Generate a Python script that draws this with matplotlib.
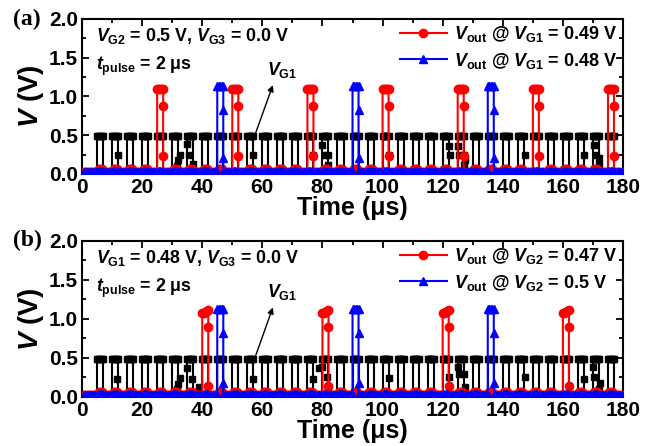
import matplotlib
matplotlib.use("Agg")
import matplotlib.pyplot as plt
from matplotlib.ticker import MultipleLocator

plt.rcParams['font.family'] = ['Liberation Sans', 'DejaVu Sans']
plt.rcParams['font.weight'] = 'bold'
plt.rcParams['mathtext.fontset'] = 'custom'
plt.rcParams['mathtext.rm'] = 'Liberation Sans:bold'
plt.rcParams['mathtext.it'] = 'Liberation Sans:italic:bold'
plt.rcParams['mathtext.bf'] = 'Liberation Sans:bold'

# ---------------- data ----------------
# VG1 input pulse train (same in both panels)
vg1_pulse_starts = [5, 10, 15, 20, 25, 30, 35, 40, 45, 50, 55, 60, 65, 70, 75, 80, 85,
                    90, 95, 100, 105, 110, 115, 120, 125, 130, 135, 140, 145, 150, 155,
                    160, 165, 170, 175]
vg1_high = 0.49
# shape of one pulse: time offsets (us) and levels (1 -> vg1_high)
pulse_dt = [0.0, 0.0, 0.4, 0.8, 1.2, 1.6, 2.0, 2.0]
pulse_lv = [0.0, 1, 1, 1, 1, 1, 1, 0.0]

# sporadic VG1 samples caught on the edges
a_edge_t = [12, 31.5, 32, 32.5, 34.8, 35.5, 37, 57, 77, 80, 81, 82, 82, 102, 122, 122.5,
            125, 125.5, 127, 127, 127.5, 147.5, 167, 170.5, 171, 172, 172]
a_edge_v = [0.25, 0.10, 0.18, 0.24, 0.38, 0.25, 0.13, 0.25, 0.25, 0.37, 0.25, 0.25, 0.12,
            0.25, 0.36, 0.25, 0.36, 0.25, 0.25, 0.12, 0.18, 0.25, 0.25, 0.37, 0.25, 0.12, 0.20]
b_edge_t = [11.5, 31.5, 32, 32.5, 34.8, 36.5, 39, 57, 77, 79, 80, 81.5, 82, 102, 122, 125,
            125.5, 127, 127.5, 147.5, 167, 170, 170.5, 172.5, 172]
b_edge_v = [0.23, 0.10, 0.17, 0.24, 0.37, 0.23, 0.13, 0.23, 0.23, 0.37, 0.39, 0.26, 0.13,
            0.24, 0.26, 0.39, 0.30, 0.30, 0.13, 0.26, 0.23, 0.39, 0.26, 0.18, 0.10]

# Vout spikes: start times, top level at start / end, samples on falling edge
a_red_spikes = [25, 50, 75, 100, 125, 150, 175]
a_red_top = (1.10, 1.10)
a_red_fall = [0.88, 0.23]
a_blue_spikes = [45, 90, 135]
a_blue_top = (1.13, 1.13)
a_blue_fall = [0.83, 0.21]

b_red_spikes = [40, 80, 120, 160]
b_red_top = (1.07, 1.11)
b_red_fall = [0.90, 0.14]
b_blue_spikes = [45, 90, 135]
b_blue_top = (1.13, 1.13)
b_blue_fall = [0.82, 0.18]

# Vout baseline level and bump during each VG1 pulse
red_base, red_bump = 0.03, 0.06
blue_base, blue_bump = 0.03, 0.04

xticks = [0, 20, 40, 60, 80, 100, 120, 140, 160, 180]
yticks = [0.0, 0.5, 1.0, 1.5, 2.0]


def build_vg1():
    t, v = [0.0], [0.0]
    for t0 in vg1_pulse_starts:
        for dt, lv in zip(pulse_dt, pulse_lv):
            t.append(t0 + dt)
            v.append(lv * vg1_high if lv == 1 else lv)
    t.append(180.0)
    v.append(0.0)
    return t, v


def build_vout(spikes, top, fall, base, bump):
    t, v = [], []
    periods = [0] + vg1_pulse_starts
    for t0 in periods:
        if t0 in spikes:
            d = top[1] - top[0]
            seg_t = [t0, t0, t0 + 0.5, t0 + 1.0, t0 + 1.5, t0 + 2.0, t0 + 2.0, t0 + 2.0, t0 + 2.0]
            seg_v = [base, top[0], top[0] + d * 0.25, top[0] + d * 0.5, top[0] + d * 0.75,
                     top[1], fall[0], fall[1], base]
        elif t0 > 0:
            seg_t = [t0, t0 + 0.5, t0 + 1.0, t0 + 1.5, t0 + 2.0]
            seg_v = [base, bump, bump, bump, base]
        else:
            seg_t = [0.5, 1.0, 1.5, 2.0]
            seg_v = [base, base, base, base]
        t += seg_t
        v += seg_v
        for dt in [2.5, 3.0, 3.5, 4.0, 4.5]:
            if t0 + dt <= 180:
                t.append(t0 + dt)
                v.append(base)
    return t, v


fig = plt.figure(figsize=(6.51, 4.46), dpi=100)
ax1 = fig.add_axes([0.126, 0.610, 0.831, 0.3475])
ax2 = fig.add_axes([0.126, 0.110, 0.831, 0.350])

RED = '#ff0000'
BLUE = '#0000ff'

panels = [
    (ax1, a_edge_t, a_edge_v, (a_red_spikes, a_red_top, a_red_fall),
     (a_blue_spikes, a_blue_top, a_blue_fall),
     r'$V_{\mathrm{G2}}$ = 0.5 V, $V_{\mathrm{G3}}$ = 0.0 V',
     r'$V_{\mathrm{out}}$ @ $V_{\mathrm{G1}}$ = 0.49 V',
     r'$V_{\mathrm{out}}$ @ $V_{\mathrm{G1}}$ = 0.48 V', '(a)'),
    (ax2, b_edge_t, b_edge_v, (b_red_spikes, b_red_top, b_red_fall),
     (b_blue_spikes, b_blue_top, b_blue_fall),
     r'$V_{\mathrm{G1}}$ = 0.48 V, $V_{\mathrm{G3}}$ = 0.0 V',
     r'$V_{\mathrm{out}}$ @ $V_{\mathrm{G2}}$ = 0.47 V',
     r'$V_{\mathrm{out}}$ @ $V_{\mathrm{G2}}$ = 0.5 V', '(b)'),
]

for ax, et, ev, red, blue, cond, lab_r, lab_b, tag in panels:
    gt, gv = build_vg1()
    ax.plot(gt, gv, color='black', lw=1.5, marker='s', ms=5, zorder=2)
    ax.plot(et, ev, ls='none', color='black', marker='s', ms=5, zorder=2)
    rt, rv = build_vout(red[0], red[1], red[2], red_base, red_bump)
    ax.plot(rt, rv, color=RED, lw=1.5, marker='o', ms=6, zorder=3, label=lab_r)
    bt, bv = build_vout(blue[0], blue[1], blue[2], blue_base, blue_bump)
    ax.plot(bt, bv, color=BLUE, lw=1.5, marker='^', ms=6, zorder=4, label=lab_b)

    ax.set_xlim(0, 180)
    ax.set_ylim(0, 2.0)
    ax.set_xticks(xticks)
    ax.set_yticks(yticks)
    ax.xaxis.set_minor_locator(MultipleLocator(10))
    ax.yaxis.set_minor_locator(MultipleLocator(0.25))
    ax.set_yticklabels([f'{y:.1f}' for y in yticks])
    ax.tick_params(which='both', direction='in', top=True, right=True, width=1.3,
                   labelsize=15, pad=3)
    ax.tick_params(which='major', length=5)
    ax.tick_params(which='minor', length=3)
    for s in ax.spines.values():
        s.set_linewidth(1.5)
    ax.set_xlabel('Time (μs)', fontsize=18, fontweight='bold', labelpad=-1)
    ax.set_ylabel('$V$ (V)', fontsize=20, fontweight='bold', labelpad=2)

    ax.text(4.5, 1.78, cond, fontsize=12.8, fontweight='bold', va='center', ha='left')
    ax.text(4.5, 1.39, r'$t_{\mathrm{pulse}}$ = 2 μs', fontsize=12.8, fontweight='bold',
            va='center', ha='left')
    ax.text(61.5, 1.34, r'$V_{\mathrm{G1}}$', fontsize=12.8, fontweight='bold',
            va='center', ha='left')
    ax.annotate('', xy=(63.8, 1.18), xytext=(57.5, 0.5),
                arrowprops=dict(arrowstyle='-|>', color='black', lw=1.0,
                                mutation_scale=9), zorder=6)

    leg = ax.legend(loc='upper right', frameon=False, fontsize=13, handlelength=2.6,
                    borderaxespad=0.1, handletextpad=0.4, labelspacing=0.35,
                    borderpad=0.2)
    pos = ax.get_position()
    fig.text(0.02, pos.y1, tag, family='Liberation Serif', fontweight='bold',
             fontsize=17, va='center', ha='left')

fig.savefig('out.png', dpi=100)
